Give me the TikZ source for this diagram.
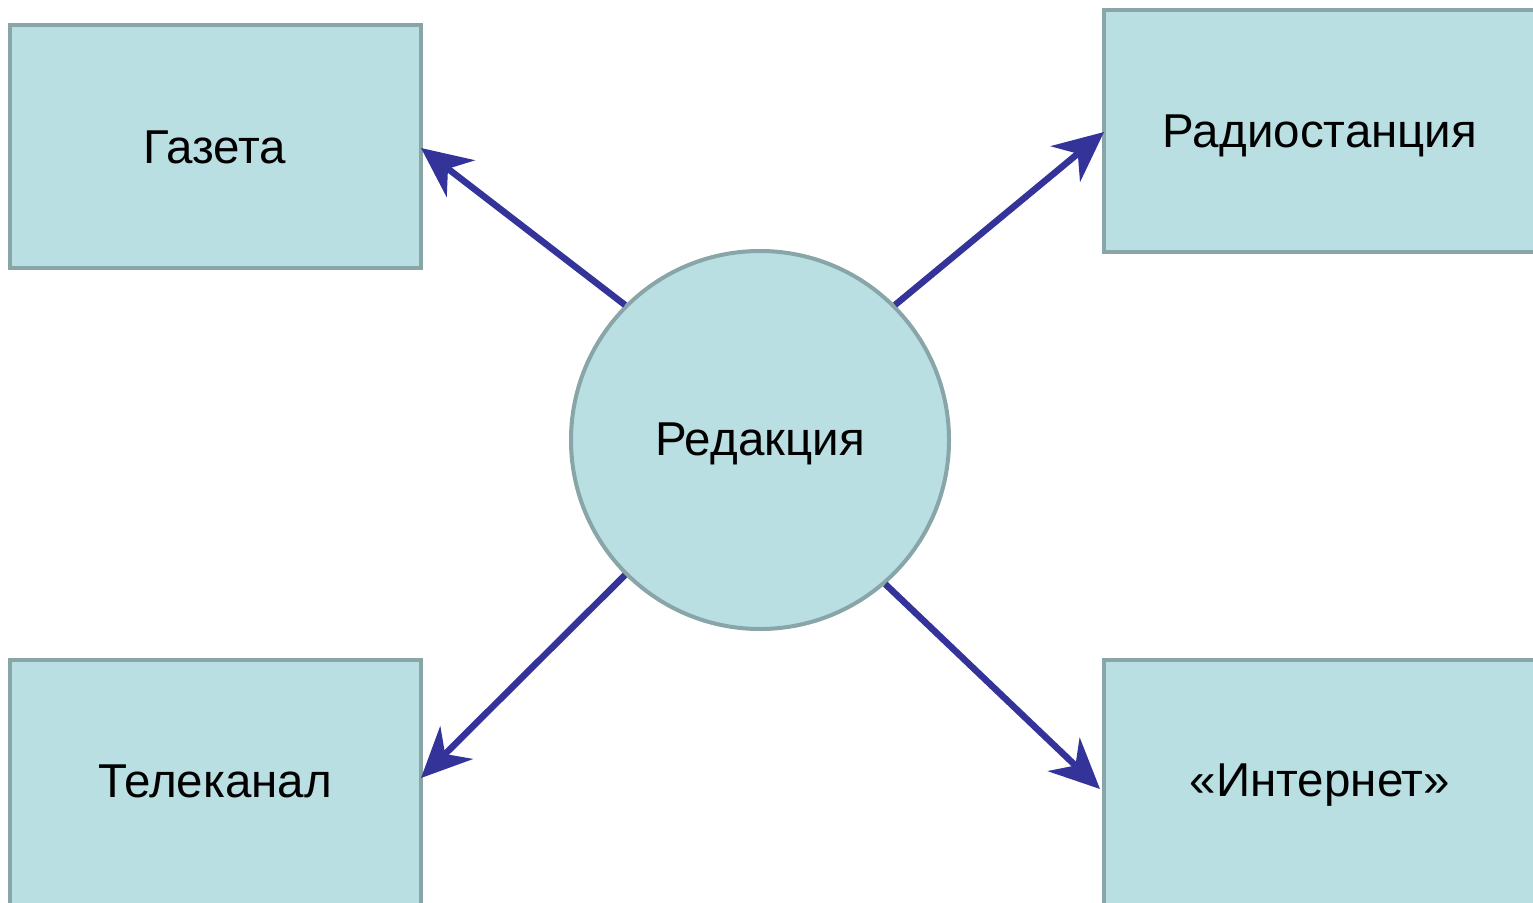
\documentclass[tikz,border=0pt]{standalone}
\usepackage{fontspec}
\setmainfont{Liberation Sans}
\usetikzlibrary{arrows.meta}
\definecolor{boxfill}{HTML}{B9DFE2}
\definecolor{boxline}{HTML}{88A5A8}
\definecolor{arrowc}{HTML}{333399}
\tikzset{
  mbox/.style={draw=boxline, line width=4pt, fill=boxfill},
  lbl/.style={font=\fontsize{47.5}{54}\selectfont, text=black},
  conn/.style={draw=arrowc, line width=6.5pt, -{Stealth[length=50pt, width=46pt, inset=16pt]}},
}
\begin{document}
\begin{tikzpicture}[x=1pt,y=-1pt]
\useasboundingbox (0,0) rectangle (1533,902);
\clip (0,0) rectangle (1533,902);
% boxes
\draw[mbox] (10,25) rectangle (421,268);
\node[lbl] (gaz) at (215,147) {Газета};
\coordinate (gazE) at (421,148);
\draw[mbox] (1104,10) rectangle (1560,252);
\node[lbl] (rad) at (1320,136) {Радиостанция};
\coordinate (radW) at (1104,132);
\draw[mbox] (10,660) rectangle (421,920);
\node[lbl] (tel) at (215,781) {Телеканал};
\coordinate (telE) at (421,778);
\draw[mbox] (1104,660) rectangle (1560,920);
\node[lbl] (int) at (1320,785) {«Интернет»};
\coordinate (intW) at (1100,789);
% circle
\node[circle, draw=boxline, line width=4pt, fill=boxfill, minimum size=378pt, inner sep=0pt] (red) at (760,440) {};
\node[lbl] at (760,444) {Редакция};
% connectors
\draw[conn] (red.135) -- (gazE);
\draw[conn] (red.45) -- (radW);
\draw[conn] (red.-135) -- (telE);
\draw[conn] (red.-49) -- (intW);
\end{tikzpicture}
\end{document}
